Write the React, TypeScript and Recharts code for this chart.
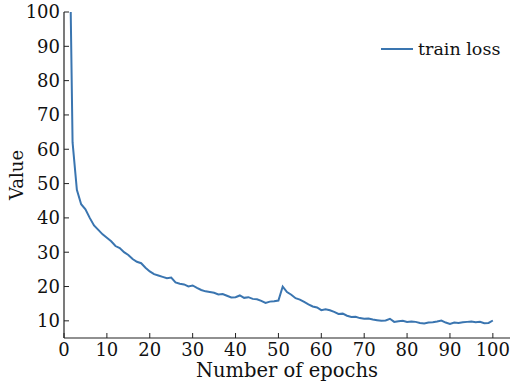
import React from 'react';
import { LineChart, Line, XAxis, YAxis, Legend } from 'recharts';

// epoch 1 is far above the visible range and gets clipped at 100
const epochs: number[] = Array.from({ length: 100 }, (_, i) => i + 1);
const trainLoss: number[] = [
  150, 62, 48.2, 44, 42.5, 40, 37.8, 36.5, 35.2, 34.2,
  33.2, 31.8, 31.2, 30, 29.2, 28, 27.2, 26.8, 25.5, 24.4,
  23.6, 23.2, 22.8, 22.4, 22.6, 21.2, 20.8, 20.6, 20.0, 20.3,
  19.6, 19.0, 18.6, 18.4, 18.2, 17.7, 17.8, 17.3, 16.8, 16.9,
  17.4, 16.7, 16.9, 16.4, 16.3, 15.8, 15.2, 15.6, 15.7, 15.9,
  20, 18.4, 17.6, 16.6, 16.2, 15.5, 14.8, 14.2, 13.9, 13.1,
  13.4, 13.1, 12.6, 12, 12.1, 11.5, 11.1, 11.2, 10.8, 10.6,
  10.7, 10.4, 10.2, 10.0, 10.1, 10.6, 9.7, 9.9, 10.0, 9.7,
  9.8, 9.7, 9.4, 9.2, 9.5, 9.6, 9.8, 10.1, 9.5, 9.1,
  9.5, 9.4, 9.6, 9.7, 9.8, 9.6, 9.7, 9.3, 9.4, 10.1,
];
const xTicks = [0, 10, 20, 30, 40, 50, 60, 70, 80, 90, 100];
const yTicks = [10, 20, 30, 40, 50, 60, 70, 80, 90, 100];

const data = epochs.map((e, i) => ({ epoch: e, loss: trainLoss[i] }));

const FONT = '"DejaVu Serif", serif';
const LINE = '#3a75b0';

const renderLegend = () => (
  <svg width={130} height={24}>
    <line x1={0} y1={12} x2={32} y2={12} stroke={LINE} strokeWidth={2} />
    <text x={37} y={18} fontFamily={FONT} fontSize={17.5} fill="#111">
      train loss
    </text>
  </svg>
);

export default function App() {
  return (
    <div style={{ position: 'absolute', left: 0, top: 0, background: '#fff' }}>
      <LineChart
        width={510}
        height={381}
        data={data}
        margin={{ top: 12, right: 0, bottom: 0, left: 0 }}
      >
        <XAxis
          dataKey="epoch"
          type="number"
          domain={[0, 104]}
          ticks={xTicks}
          allowDataOverflow
          height={43}
          tickSize={-5}
          tickMargin={10}
          tick={{ fontFamily: FONT, fontSize: 18, fill: '#111' }}
          axisLine={{ stroke: '#222', strokeWidth: 1.2 }}
          tickLine={{ stroke: '#222' }}
          label={{ value: 'Number of epochs', position: 'insideBottom', offset: 4, style: { fontFamily: FONT, fontSize: 19.5, fill: '#111' } }}
        />
        <XAxis
          xAxisId="top"
          orientation="top"
          dataKey="epoch"
          type="number"
          domain={[0, 104]}
          height={0}
          tick={false}
          tickLine={false}
          axisLine={{ stroke: '#222', strokeWidth: 1.2 }}
        />
        <YAxis
          type="number"
          domain={[5, 100]}
          ticks={yTicks}
          allowDataOverflow
          width={64}
          tickSize={-5}
          tickMargin={9}
          tick={{ fontFamily: FONT, fontSize: 18, fill: '#111' }}
          axisLine={{ stroke: '#222', strokeWidth: 1.2 }}
          tickLine={{ stroke: '#222' }}
          label={{ value: 'Value', angle: -90, position: 'insideLeft', offset: 17, style: { fontFamily: FONT, fontSize: 18, fill: '#111', textAnchor: 'middle' } }}
        />
        <Legend
          content={renderLegend}
          layout="horizontal"
          verticalAlign="middle"
          align="center"
          wrapperStyle={{ top: 37, left: 381, width: 130 }}
        />
        <Line
          type="linear"
          dataKey="loss"
          name="train loss"
          stroke={LINE}
          strokeWidth={2}
          dot={false}
          isAnimationActive={false}
        />
      </LineChart>
    </div>
  );
}
